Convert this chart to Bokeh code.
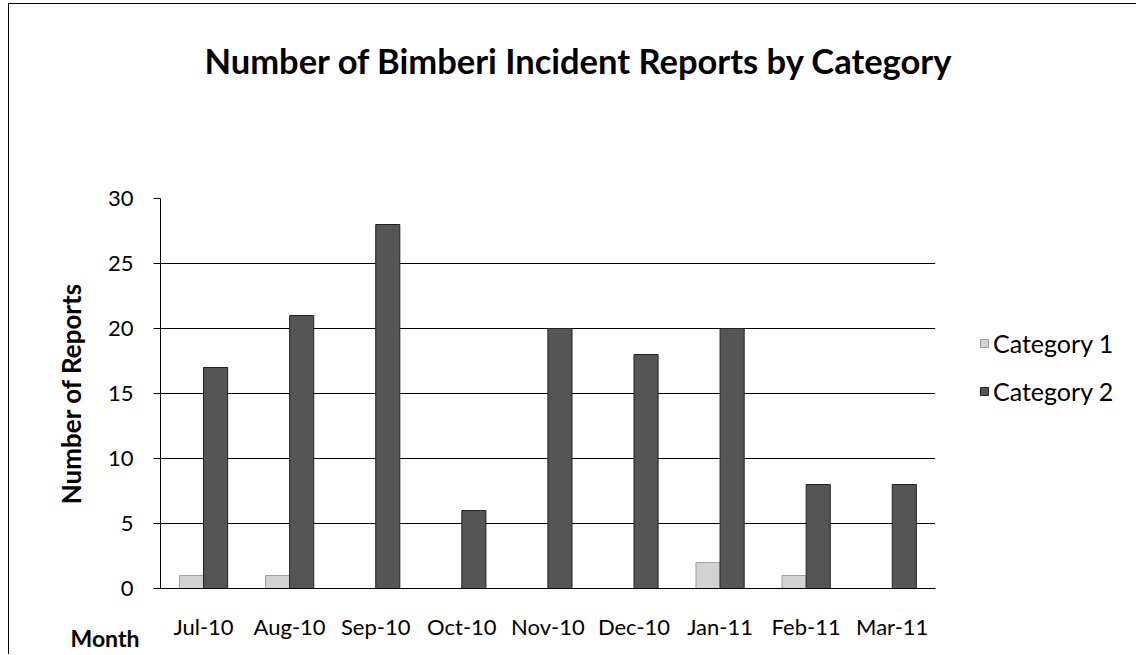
from bokeh.plotting import figure
from bokeh.models import (Range1d, Legend, LegendItem, Title, BoxAnnotation,
                          FixedTicker, ColumnDataSource)
from bokeh.transform import dodge
from bokeh.embed import file_html
from bokeh.resources import INLINE

# ---- data ----
months = ["Jul-10", "Aug-10", "Sep-10", "Oct-10", "Nov-10",
          "Dec-10", "Jan-11", "Feb-11", "Mar-11"]
category1 = [1, 1, 0, 0, 0, 0, 2, 1, 0]
category2 = [17, 21, 28, 6, 20, 18, 20, 8, 8]
series_names = ["Category 1", "Category 2"]
y_ticks = [0, 5, 10, 15, 20, 25, 30]
title_text = "Number of Bimberi Incident Reports by Category"
y_title = "Number of Reports"
x_title = "Month"

FONT = "Lato"
n = len(months)
centers = [i + 0.5 for i in range(n)]          # category slots on a numeric scale
src = ColumnDataSource(dict(x=centers, c1=category1, c2=category2))

# frame spans the plot slots plus room on the right for the legend
FRAME_PX = 976          # frame width in px
SLOTS_PX = 774          # width occupied by the 9 month slots
x_end = n * FRAME_PX / SLOTS_PX

p = figure(x_range=Range1d(0, x_end), y_range=Range1d(0, 30),
           width=1128, height=651, output_backend="svg", toolbar_location=None,
           min_border_left=151, min_border_right=0, min_border_top=194,
           min_border_bottom=67, title=None)
p.styles = {"margin-left": "8px", "margin-top": "3px",
            "border-left": "1px solid #000", "border-top": "1px solid #000"}
p.outline_line_color = None
p.background_fill_color = "white"
p.border_fill_color = "white"

# grid (only across the month slots)
p.xgrid.grid_line_color = None
p.ygrid.grid_line_color = "black"
p.ygrid.grid_line_width = 1
p.ygrid.ticker = FixedTicker(ticks=y_ticks)
g = p.ygrid[0]
if "cross_bounds" in g.properties():
    g.cross_bounds = (0, n)
p.add_layout(BoxAnnotation(left=n, fill_color="white", fill_alpha=1.0,
                           line_alpha=0, level="underlay"))

r1 = p.vbar(x=dodge("x", -0.14), top="c1", width=0.28, source=src,
            fill_color="#d2d2d2", line_color="#a0a0a0", line_width=1)
r2 = p.vbar(x=dodge("x", 0.14), top="c2", width=0.28, source=src,
            fill_color="#555555", line_color="#222222", line_width=1)

# y axis
p.yaxis.ticker = FixedTicker(ticks=y_ticks)
p.yaxis.axis_line_color = "black"
p.yaxis.major_tick_line_color = "black"
p.yaxis.major_tick_out = 7
p.yaxis.major_tick_in = 0
p.yaxis.minor_tick_line_color = None
p.yaxis.major_label_text_font = FONT
p.yaxis.major_label_text_font_size = "22px"
p.yaxis.major_label_text_color = "black"
p.yaxis.major_label_standoff = 20
p.yaxis.axis_label = y_title
p.yaxis.axis_label_text_font = FONT
p.yaxis.axis_label_text_font_style = "bold"
p.yaxis.axis_label_text_font_size = "26px"
p.yaxis.axis_label_text_color = "black"
p.yaxis.axis_label_standoff = 18

# x axis
p.xaxis.bounds = (0, n)
p.xaxis.ticker = FixedTicker(ticks=centers)
p.xaxis.major_label_overrides = {c: m for c, m in zip(centers, months)}
p.xaxis.axis_line_color = "black"
p.xaxis.major_tick_line_color = None
p.xaxis.minor_tick_line_color = None
p.xaxis.major_label_text_font = FONT
p.xaxis.major_label_text_font_size = "22px"
p.xaxis.major_label_text_color = "black"
p.xaxis.major_label_standoff = 18

# title (spacer nearest the frame, then the title itself)
p.add_layout(Title(text=" ", text_font_size="1px", standoff=113), "above")
p.add_layout(Title(text=title_text, align="left", offset=44, vertical_align="top",
                   standoff=0, text_font=FONT, text_font_style="bold",
                   text_font_size="34.5px", text_color="black"), "above")

# Month label
p.add_layout(Title(text=x_title, align="left", offset=-90, vertical_align="top",
                   standoff=-38, text_font=FONT, text_font_style="bold",
                   text_font_size="23px", text_color="black"), "below")

legend = Legend(items=[LegendItem(label=series_names[0], renderers=[r1]),
                       LegendItem(label=series_names[1], renderers=[r2])],
                location=(819, 182), padding=0, margin=0, spacing=18,
                glyph_width=10, glyph_height=10, label_height=20,
                label_standoff=4, border_line_color=None, background_fill_alpha=0,
                label_text_font=FONT, label_text_font_size="25px", label_text_color="black")
p.add_layout(legend)

open("out.html", "w").write(file_html(p, INLINE))
